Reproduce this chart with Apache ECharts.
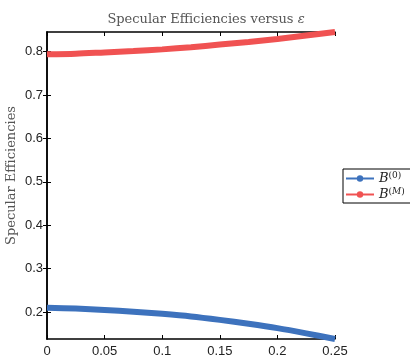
<!DOCTYPE html>
<html>
<head>
<meta charset="utf-8">
<script src="https://cdn.jsdelivr.net/npm/echarts@6/dist/echarts.min.js"></script>
<style>
  html, body { margin: 0; padding: 0; background: #fff; }
  #chart { width: 410px; height: 360px; }
</style>
</head>
<body>
<div id="chart"></div>
<script>
// Specular efficiencies of the two beams as a function of epsilon
const eps = [0, 0.025, 0.05, 0.075, 0.1, 0.125, 0.15, 0.175, 0.2, 0.225, 0.25];
const beamZero = [0.210, 0.208, 0.205, 0.201, 0.196, 0.190, 0.182, 0.173, 0.163, 0.151, 0.138];
const beamM = [0.7935, 0.795, 0.798, 0.801, 0.805, 0.810, 0.816, 0.822, 0.829, 0.837, 0.845];
const yTickValues = [0.2, 0.3, 0.4, 0.5, 0.6, 0.7, 0.8];
const seriesNames = ['B(0)', 'B(M)'];
const legendSup = { 'B(0)': '{s|(0)}', 'B(M)': '{s|(}{si|M}{s|)}' };

const yMin = Math.min(...beamZero, ...beamM);
const yMax = Math.max(...beamZero, ...beamM);

const serif = '"DejaVu Serif", "Liberation Serif", serif';
const sans = '"Liberation Sans", Arial, sans-serif';

const frameLine = { show: true, lineStyle: { color: '#000', width: 1.5 } };
const innerTick = { show: true, inside: true, length: 4, lineStyle: { color: '#000', width: 1 } };
const supStyle = { fontFamily: serif, fontSize: 9, color: '#222', verticalAlign: 'top', padding: [0, 0, 6, 0] };

const chart = echarts.init(document.getElementById('chart'), null, { renderer: 'canvas' });
chart.setOption({
  animation: false,
  backgroundColor: '#fff',
  grid: { left: 47, right: 75, top: 32, bottom: 21, outerBoundsMode: 'none', containLabel: false },
  title: {
    text: '{t|Specular Efficiencies versus }{e|ε}',
    left: 201, top: 8, textAlign: 'center',
    textStyle: {
      fontWeight: 'normal',
      rich: {
        t: { fontFamily: serif, fontSize: 13, fontWeight: 'normal', color: '#555' },
        e: { fontFamily: serif, fontSize: 13, fontWeight: 'normal', fontStyle: 'italic', color: '#555' }
      }
    }
  },
  graphic: [{
    type: 'text', left: 5, top: 106, rotation: Math.PI / 2,
    style: { text: 'Specular Efficiencies', fontFamily: serif, fontSize: 13, fill: '#555' }
  }],
  legend: {
    orient: 'vertical', left: 343, top: 169,
    data: seriesNames,
    itemWidth: 28, itemHeight: 8, itemGap: 2,
    borderColor: '#000', borderWidth: 1, padding: [2, 20, 2, 2],
    backgroundColor: '#fff',
    formatter: n => '{i|B}' + legendSup[n],
    textStyle: {
      rich: {
        i: { fontFamily: serif, fontStyle: 'italic', fontSize: 13, color: '#222' },
        s: supStyle,
        si: Object.assign({}, supStyle, { fontStyle: 'italic' })
      }
    }
  },
  xAxis: [{
    type: 'value', min: 0, max: 0.25, interval: 0.05, position: 'bottom',
    axisLine: frameLine, axisTick: innerTick, splitLine: { show: false },
    name: 'ε', nameLocation: 'middle', nameGap: 22,
    nameTextStyle: { fontFamily: serif, fontSize: 12, fontStyle: 'italic', color: '#555' },
    axisLabel: { fontFamily: sans, fontSize: 13, color: '#222', margin: 6 }
  }, {
    type: 'value', min: 0, max: 0.25, interval: 0.05, position: 'top',
    axisLine: frameLine, axisTick: innerTick, splitLine: { show: false },
    axisLabel: { show: false }
  }],
  yAxis: [{
    type: 'value', min: yMin, max: yMax, position: 'left',
    axisLine: frameLine, splitLine: { show: false },
    axisTick: Object.assign({ customValues: yTickValues }, innerTick),
    axisLabel: {
      customValues: yTickValues, fontFamily: sans, fontSize: 13, color: '#222', margin: 4,
      formatter: v => v.toFixed(1)
    }
  }, {
    type: 'value', min: yMin, max: yMax, position: 'right',
    axisLine: frameLine, splitLine: { show: false },
    axisTick: Object.assign({ customValues: yTickValues }, innerTick),
    axisLabel: { show: false }
  }],
  series: [{
    name: seriesNames[0], type: 'line', smooth: 0.3, clip: false,
    data: eps.map((x, i) => [x, beamZero[i]]),
    symbol: 'circle', symbolSize: 6, showSymbol: false,
    color: '#3d72bd',
    lineStyle: { width: 6, color: '#3d72bd' }
  }, {
    name: seriesNames[1], type: 'line', smooth: 0.3, clip: false,
    data: eps.map((x, i) => [x, beamM[i]]),
    symbol: 'circle', symbolSize: 6, showSymbol: false,
    color: '#f05252',
    lineStyle: { width: 6, color: '#f05252' }
  }]
});
</script>
</body>
</html>
